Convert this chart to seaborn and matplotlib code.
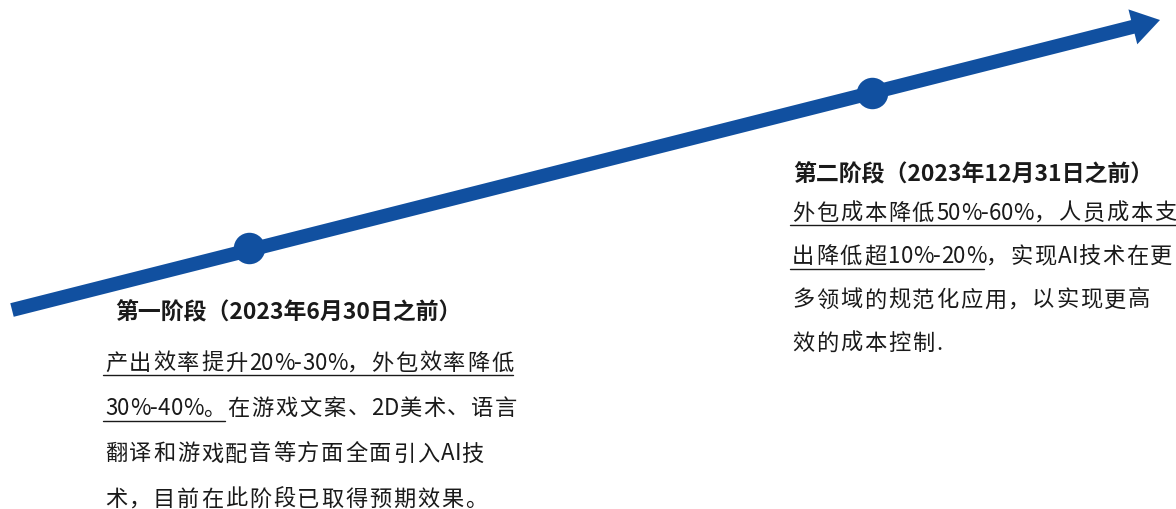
import matplotlib
matplotlib.use("Agg")
import matplotlib.pyplot as plt
import seaborn as sns
import pandas as pd

# timeline (pixel-like units, y grows downward)
arrow_x = [12, 1160]
arrow_y = [310, 20]
stage_x = [249, 872]
stage_y = [248, 93]

stage_titles = ["第一阶段（2023年6月30日之前）", "第二阶段（2023年12月31日之前）"]
# each line: (underlined part, rest)
stage1_lines = [
    ("产出效率提升20%-30%，外包效率降低", ""),
    ("30%-40%。", "在游戏文案、2D美术、语言"),
    ("", "翻译和游戏配音等方面全面引入AI技"),
    ("", "术，目前在此阶段已取得预期效果。"),
]
stage2_lines = [
    ("外包成本降低50%-60%，人员成本支", ""),
    ("出降低超10%-20%", "，实现AI技术在更"),
    ("", "多领域的规范化应用，以实现更高"),
    ("", "效的成本控制."),
]

blue = "#1150a0"
ink = "#1a1a1a"

sns.set_theme(style="white")
plt.rcParams["font.family"] = ["Noto Sans CJK SC", "DejaVu Sans"]

fig = plt.figure(figsize=(11.76, 5.09), dpi=100)
ax = fig.add_axes([0, 0, 1, 1])

ax.arrow(arrow_x[0], arrow_y[0], arrow_x[1] - arrow_x[0], arrow_y[1] - arrow_y[0],
         width=14, head_width=36, head_length=28, length_includes_head=True,
         color=blue, lw=0)

dots = pd.DataFrame({"x": stage_x, "y": stage_y})
sns.scatterplot(data=dots, x="x", y="y", s=440, color=blue, edgecolor=blue, ax=ax, zorder=3)
ax.set_xlim(0, 1176)
ax.set_ylim(509, 0)
ax.axis("off")

renderer = fig.canvas.get_renderer()
FS = 16
CJK_STEP = 24.0  # wide chars are spaced out like the source document


def put_chars(x, y, s):
    # draws a string char by char, wide glyphs on a fixed step
    for ch in s:
        t = ax.text(x, y, ch, fontsize=FS, color=ink, va="center", ha="left")
        if ord(ch) > 0x2E80:
            x += CJK_STEP
        else:
            x += t.get_window_extent(renderer).width
    return x


def draw_block(x0, title_xy, title, lines, y0, dy):
    ax.text(title_xy[0], title_xy[1], title, fontsize=16.5, fontweight="bold",
            color=ink, va="center", ha="left")
    for i, (under, rest) in enumerate(lines):
        y = y0 + i * dy
        x = x0
        if under:
            x = put_chars(x, y, under)
            ax.plot([x0 - 2, x - 2], [y + 12, y + 12], color=ink, lw=1)
        if rest:
            put_chars(x, y, rest)


draw_block(105, (115, 313), stage_titles[0], stage1_lines, 363, 45.5)
draw_block(792, (793, 175), stage_titles[1], stage2_lines, 213, 43.5)

fig.savefig("out.png", dpi=100)
